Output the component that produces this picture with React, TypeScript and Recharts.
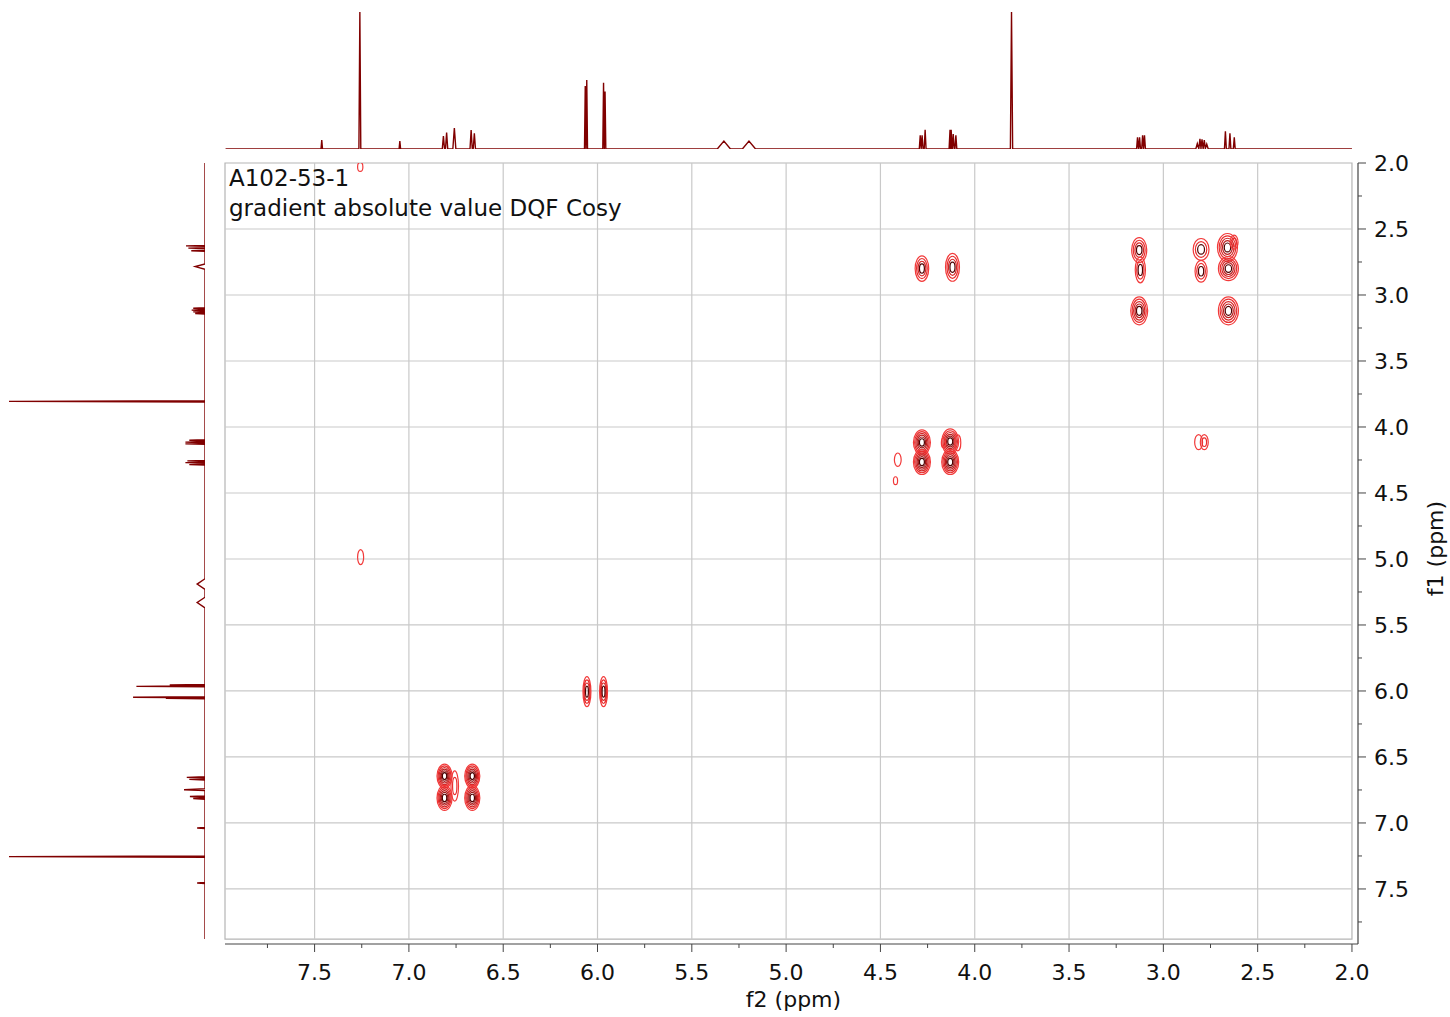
import React from "react";
import { ScatterChart, Scatter, XAxis, YAxis, ReferenceLine, ReferenceArea } from "recharts";

// ---- axis values (ppm) ----
const f2Domain: [number, number] = [1.968, 7.975];
const f1Domain: [number, number] = [2.0, 7.917];
const f2Box: [number, number] = [7.975, 2.0];
const f1Box: [number, number] = [2.0, 7.88];

const majorTicks = [2.0, 2.5, 3.0, 3.5, 4.0, 4.5, 5.0, 5.5, 6.0, 6.5, 7.0, 7.5];
const minorTicks = [2.25, 2.75, 3.25, 3.75, 4.25, 4.75, 5.25, 5.75, 6.25, 6.75, 7.25, 7.75];
const gridLines = [2.5, 3.0, 3.5, 4.0, 4.5, 5.0, 5.5, 6.0, 6.5, 7.0, 7.5];

// ---- 1D projections: [ppm, relative height, half width in ppm] ----
const topPeaks: [number, number, number][] = [
  [7.462, 0.066, 0.004],
  [7.26, 1.0, 0.005],
  [7.048, 0.058, 0.004],
  [6.817, 0.095, 0.006],
  [6.8, 0.12, 0.006],
  [6.759, 0.153, 0.008],
  [6.67, 0.139, 0.006],
  [6.653, 0.115, 0.006],
  [6.065, 0.46, 0.004],
  [6.057, 0.504, 0.004],
  [5.968, 0.484, 0.004],
  [5.96, 0.42, 0.004],
  [5.33, 0.058, 0.035],
  [5.197, 0.058, 0.035],
  [4.289, 0.1, 0.005],
  [4.279, 0.1, 0.005],
  [4.263, 0.14, 0.005],
  [4.131, 0.14, 0.005],
  [4.125, 0.14, 0.005],
  [4.114, 0.11, 0.005],
  [4.1, 0.1, 0.005],
  [3.805, 1.0, 0.006],
  [3.137, 0.085, 0.005],
  [3.126, 0.085, 0.005],
  [3.11, 0.1, 0.005],
  [3.1, 0.1, 0.005],
  [2.82, 0.04, 0.008],
  [2.806, 0.075, 0.006],
  [2.795, 0.07, 0.006],
  [2.783, 0.065, 0.006],
  [2.77, 0.035, 0.008],
  [2.671, 0.13, 0.005],
  [2.647, 0.115, 0.005],
  [2.624, 0.085, 0.005],
];

const leftPeaks: [number, number, number][] = [
  [2.628, 0.097, 0.004],
  [2.645, 0.085, 0.004],
  [2.665, 0.07, 0.004],
  [2.785, 0.05, 0.02],
  [3.1, 0.06, 0.004],
  [3.115, 0.068, 0.004],
  [3.128, 0.06, 0.004],
  [3.14, 0.05, 0.004],
  [3.806, 1.0, 0.005],
  [4.1, 0.08, 0.004],
  [4.115, 0.1, 0.004],
  [4.128, 0.1, 0.004],
  [4.257, 0.09, 0.004],
  [4.27, 0.1, 0.004],
  [4.285, 0.08, 0.004],
  [5.19, 0.04, 0.04],
  [5.33, 0.04, 0.04],
  [5.955, 0.18, 0.004],
  [5.965, 0.35, 0.004],
  [6.048, 0.367, 0.004],
  [6.056, 0.2, 0.004],
  [6.655, 0.093, 0.005],
  [6.67, 0.08, 0.005],
  [6.748, 0.107, 0.007],
  [6.8, 0.077, 0.005],
  [6.815, 0.06, 0.005],
  [7.038, 0.04, 0.004],
  [7.255, 1.0, 0.005],
  [7.455, 0.04, 0.004],
];

// ---- 2D contour peaks: f2, f1, half widths (ppm), contour levels ----
type Peak = { f2: number; f1: number; w: number; h: number; n: number };

const diagonalPeaks: Peak[] = [
  { f2: 6.811, f1: 6.645, w: 0.04, h: 0.091, n: 6 },
  { f2: 6.811, f1: 6.81, w: 0.04, h: 0.095, n: 6 },
  { f2: 6.664, f1: 6.645, w: 0.04, h: 0.091, n: 6 },
  { f2: 6.664, f1: 6.81, w: 0.04, h: 0.095, n: 6 },
  { f2: 6.757, f1: 6.72, w: 0.02, h: 0.114, n: 2 },
  { f2: 6.056, f1: 6.005, w: 0.021, h: 0.114, n: 4 },
  { f2: 5.968, f1: 6.005, w: 0.021, h: 0.114, n: 4 },
  { f2: 4.28, f1: 4.117, w: 0.045, h: 0.095, n: 6 },
  { f2: 4.28, f1: 4.265, w: 0.045, h: 0.095, n: 6 },
  { f2: 4.13, f1: 4.11, w: 0.045, h: 0.095, n: 6 },
  { f2: 4.13, f1: 4.265, w: 0.045, h: 0.095, n: 6 },
  { f2: 3.128, f1: 3.12, w: 0.045, h: 0.106, n: 5 },
  { f2: 2.66, f1: 2.64, w: 0.053, h: 0.106, n: 5 },
  { f2: 2.655, f1: 2.8, w: 0.053, h: 0.091, n: 5 },
  { f2: 2.625, f1: 2.6, w: 0.021, h: 0.053, n: 2 },
  { f2: 2.8, f1: 2.82, w: 0.032, h: 0.083, n: 3 },
];

const crossPeaks: Peak[] = [
  { f2: 7.258, f1: 2.03, w: 0.014, h: 0.034, n: 1 },
  { f2: 7.256, f1: 4.986, w: 0.016, h: 0.057, n: 1 },
  { f2: 4.28, f1: 2.8, w: 0.036, h: 0.097, n: 4 },
  { f2: 4.118, f1: 2.79, w: 0.037, h: 0.106, n: 4 },
  { f2: 3.128, f1: 2.66, w: 0.04, h: 0.095, n: 4 },
  { f2: 3.122, f1: 2.81, w: 0.027, h: 0.098, n: 3 },
  { f2: 2.8, f1: 2.655, w: 0.042, h: 0.083, n: 3 },
  { f2: 2.655, f1: 3.12, w: 0.053, h: 0.106, n: 5 },
  { f2: 4.09, f1: 4.12, w: 0.016, h: 0.061, n: 1 },
  { f2: 4.166, f1: 4.12, w: 0.011, h: 0.038, n: 1 },
  { f2: 4.408, f1: 4.248, w: 0.018, h: 0.051, n: 1 },
  { f2: 4.42, f1: 4.407, w: 0.011, h: 0.03, n: 1 },
  { f2: 2.813, f1: 4.115, w: 0.021, h: 0.057, n: 1 },
  { f2: 2.783, f1: 4.115, w: 0.021, h: 0.057, n: 2 },
];

// ---- layout ----
const W = 1450;
const H = 1017;
const PLOT = { left: 225, top: 163, right: 1358, bottom: 944 };
const PX_X = (PLOT.right - PLOT.left) / (f2Domain[1] - f2Domain[0]);
const PX_Y = (PLOT.bottom - PLOT.top) / (f1Domain[1] - f1Domain[0]);
const FONT = "'DejaVu Sans', Verdana, sans-serif";
const SPEC = "#800000";
const GRID = "#c9c9c9";
const AXIS = "#444";
const RING_COLORS = ["#f23a3a", "#e82e2e", "#d42424", "#bb1c1c", "#9c1414"];
const RING_CORE = "#4d0000";

// line trace through baseline/apex/baseline of every peak
const buildTrace = (peaks: [number, number, number][], from: number, to: number) => {
  const dir = to > from ? 1 : -1;
  const pts = [{ ppm: from, v: 0 }];
  peaks.forEach(([p, hgt, w]) => {
    pts.push({ ppm: p - dir * w, v: 0 }, { ppm: p, v: hgt }, { ppm: p + dir * w, v: 0 });
  });
  pts.push({ ppm: to, v: 0 });
  return pts;
};

const topTrace = buildTrace(topPeaks, 7.972, 2.0);
const leftTrace = buildTrace(leftPeaks, 2.0, 7.88);
const contourPeaks = [...diagonalPeaks, ...crossPeaks];

const Contour = (props: any) => {
  const { cx, cy, payload } = props;
  if (cx == null || cy == null) return <g />;
  const rx = payload.w * PX_X;
  const ry = payload.h * PX_Y;
  const n = payload.n;
  const rings = [];
  for (let k = 0; k < n; k++) {
    const s = 1 - (k / n) * 0.85;
    const color = n >= 3 && k === n - 1 ? RING_CORE : RING_COLORS[Math.min(k, RING_COLORS.length - 1)];
    rings.push(
      <ellipse key={k} cx={cx} cy={cy} rx={rx * s} ry={ry * s} fill="none" stroke={color} strokeWidth={1.2} />
    );
  }
  return <g>{rings}</g>;
};

const isMajor = (v: number) => Math.abs(v * 2 - Math.round(v * 2)) < 1e-6;

const BottomTick = (props: any) => {
  const { x, y, payload } = props;
  const major = isMajor(payload.value);
  return (
    <g>
      <line x1={x} y1={y} x2={x} y2={y + (major ? 8 : 4)} stroke={AXIS} strokeWidth={1} />
      {major && (
        <text x={x} y={y + 36} textAnchor="middle" fontSize={22} fontFamily={FONT} fill="#111">
          {payload.value.toFixed(1)}
        </text>
      )}
    </g>
  );
};

const RightTick = (props: any) => {
  const { x, y, payload } = props;
  const major = isMajor(payload.value);
  return (
    <g>
      <line x1={x} y1={y} x2={x + (major ? 8 : 4)} y2={y} stroke={AXIS} strokeWidth={1} />
      {major && (
        <text x={x + 16} y={y + 8} textAnchor="start" fontSize={22} fontFamily={FONT} fill="#111">
          {payload.value.toFixed(1)}
        </text>
      )}
    </g>
  );
};

const F2Label = (props: any) => {
  const vb = props.viewBox ?? { x: PLOT.left, y: PLOT.bottom, width: PLOT.right - PLOT.left, height: 60 };
  return (
    <text x={vb.x + vb.width / 2 + 2} y={vb.y + 63} textAnchor="middle" fontSize={22} fontFamily={FONT} fill="#111">
      f2 (ppm)
    </text>
  );
};

const F1Label = (props: any) => {
  const vb = props.viewBox ?? { x: PLOT.right, y: PLOT.top, width: 70, height: PLOT.bottom - PLOT.top };
  const x = vb.x + 77;
  const y = vb.y + vb.height / 2 - 5;
  return (
    <text
      x={x}
      y={y}
      transform={`rotate(-90 ${x} ${y})`}
      textAnchor="middle"
      dominantBaseline="central"
      fontSize={22}
      fontFamily={FONT}
      fill="#111"
    >
      f1 (ppm)
    </text>
  );
};

const noDot = () => <g />;

const App: React.FC = () => {
  const allTicks = [...majorTicks, ...minorTicks].sort((a, b) => a - b);
  return (
    <div style={{ position: "absolute", left: 0, top: 0, width: W, height: H, background: "#fff" }}>
      {/* main 2D plot */}
      <div style={{ position: "absolute", left: 0, top: 0 }}>
        <ScatterChart
          width={W}
          height={H}
          margin={{ left: PLOT.left, top: PLOT.top, right: W - PLOT.right - 70, bottom: H - PLOT.bottom - 60 }}
        >
          <XAxis
            type="number"
            dataKey="f2"
            domain={f2Domain}
            reversed
            allowDataOverflow
            ticks={allTicks}
            interval={0}
            tickSize={0}
            tickMargin={0}
            tick={BottomTick}
            tickLine={false}
            axisLine={{ stroke: AXIS, strokeWidth: 1.2 }}
            height={60}
            label={F2Label}
          />
          <YAxis
            type="number"
            dataKey="f1"
            orientation="right"
            domain={f1Domain}
            reversed
            allowDataOverflow
            ticks={allTicks}
            interval={0}
            tickSize={0}
            tickMargin={0}
            tick={RightTick}
            tickLine={false}
            axisLine={{ stroke: AXIS, strokeWidth: 1.2 }}
            width={70}
            label={F1Label}
          />
          {gridLines.map((v) => (
            <ReferenceLine
              key={"gx" + v}
              segment={[{ x: v, y: f1Box[0] }, { x: v, y: f1Box[1] }]}
              stroke={GRID}
              strokeWidth={1.2}
              ifOverflow="visible"
            />
          ))}
          {gridLines.map((v) => (
            <ReferenceLine
              key={"gy" + v}
              segment={[{ x: f2Box[0], y: v }, { x: f2Box[1], y: v }]}
              stroke={GRID}
              strokeWidth={1.2}
              ifOverflow="visible"
            />
          ))}
          <ReferenceArea
            x1={f2Box[0]}
            x2={f2Box[1]}
            y1={f1Box[0]}
            y2={f1Box[1]}
            fill="none"
            fillOpacity={0}
            stroke="#b5b5b5"
            strokeWidth={1.2}
            ifOverflow="visible"
          />
          <Scatter data={contourPeaks} shape={Contour} isAnimationActive={false} />
        </ScatterChart>
      </div>

      {/* top 1D projection */}
      <div style={{ position: "absolute", left: 0, top: 0 }}>
        <ScatterChart width={W} height={PLOT.top} margin={{ left: PLOT.left, right: W - PLOT.right, top: 12, bottom: 14 }}>
          <XAxis type="number" dataKey="ppm" domain={f2Domain} reversed hide allowDataOverflow />
          <YAxis type="number" dataKey="v" domain={[0, 1]} hide allowDataOverflow />
          <Scatter
            data={topTrace}
            line={{ stroke: SPEC, strokeWidth: 1.4 }}
            lineType="joint"
            shape={noDot}
            isAnimationActive={false}
          />
        </ScatterChart>
      </div>

      {/* left 1D projection */}
      <div style={{ position: "absolute", left: 0, top: 0 }}>
        <ScatterChart width={PLOT.left} height={H} margin={{ left: 9, right: 20, top: PLOT.top, bottom: H - PLOT.bottom }}>
          <XAxis type="number" dataKey="v" domain={[0, 1]} reversed hide allowDataOverflow />
          <YAxis type="number" dataKey="ppm" domain={f1Domain} reversed hide allowDataOverflow />
          <Scatter
            data={leftTrace}
            line={{ stroke: SPEC, strokeWidth: 1.4 }}
            lineType="joint"
            shape={noDot}
            isAnimationActive={false}
          />
        </ScatterChart>
      </div>

      {/* title */}
      <div
        style={{
          position: "absolute",
          left: 229,
          top: 163,
          fontFamily: FONT,
          fontSize: 23,
          lineHeight: "30px",
          color: "#111",
          whiteSpace: "nowrap",
          pointerEvents: "none",
        }}
      >
        <div>A102-53-1</div>
        <div>gradient absolute value DQF Cosy</div>
      </div>
    </div>
  );
};

export default App;
